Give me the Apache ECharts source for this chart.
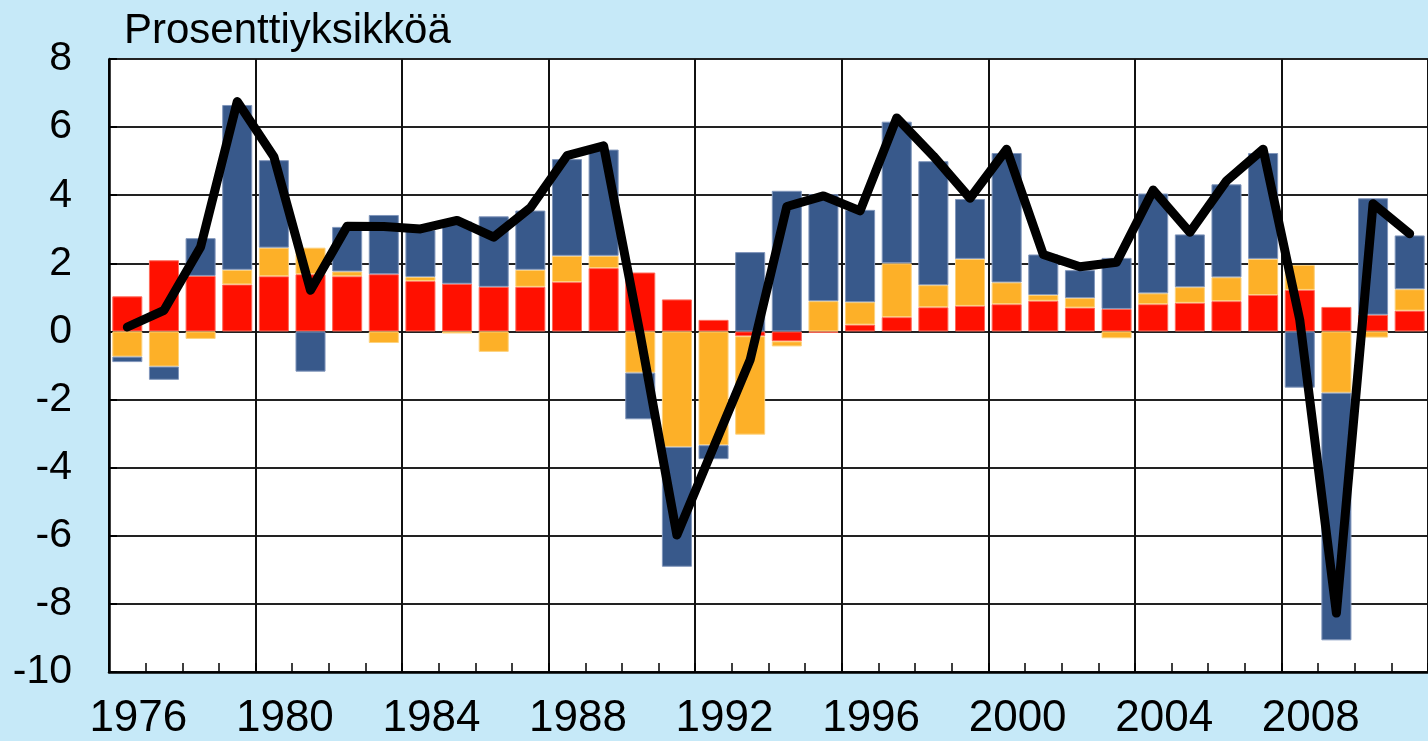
<!DOCTYPE html>
<html>
<head>
<meta charset="utf-8">
<script src="https://cdn.jsdelivr.net/npm/echarts@6/dist/echarts.min.js"></script>
<style>
  html, body { margin: 0; padding: 0; background: #c6e9f8; }
  #chart { width: 1428px; height: 741px; }
</style>
</head>
<body>
<div id="chart"></div>
<script>
const years = [];
for (let y = 1976; y <= 2011; y++) years.push(String(y));

// punainen
const redPart = [
  1.03, 2.09, 1.63, 1.38, 1.62, 1.68, 1.62, 1.68, 1.48, 1.40,
  1.31, 1.31, 1.45, 1.86, 1.73, 0.94, 0.34, -0.14, -0.29, -0.04,
  0.20, 0.42, 0.71, 0.75, 0.80, 0.90, 0.70, 0.66, 0.80, 0.84,
  0.89, 1.07, 1.22, 0.72, 0.49, 0.61
];
// oranssi
const orangePart = [
  -0.74, -1.03, -0.22, 0.43, 0.84, 0.78, 0.14, -0.34, 0.12, -0.06,
  -0.60, 0.50, 0.77, 0.36, -1.21, -3.39, -3.34, -2.89, -0.15, 0.89,
  0.66, 1.58, 0.65, 1.38, 0.64, 0.17, 0.28, -0.20, 0.32, 0.46,
  0.70, 1.06, 0.73, -1.80, -0.18, 0.63
];
// sininen
const bluePart = [
  -0.16, -0.39, 1.11, 4.84, 2.57, -1.18, 1.31, 1.74, 1.38, 1.83,
  2.07, 1.74, 2.84, 3.12, -1.37, -3.52, -0.41, 2.33, 4.13, 3.14,
  2.71, 4.16, 3.64, 1.76, 3.80, 1.19, 0.82, 1.50, 2.93, 1.55,
  2.73, 3.11, -1.65, -7.27, 3.42, 1.58
];
// viiva
const total = [
  0.13, 0.62, 2.48, 6.75, 5.13, 1.21, 3.09, 3.08, 3.01, 3.26,
  2.77, 3.63, 5.16, 5.45, -0.10, -5.98, -3.40, -0.83, 3.67, 3.98,
  3.54, 6.27, 5.15, 3.91, 5.35, 2.26, 1.90, 2.03, 4.15, 2.91,
  4.42, 5.35, 0.34, -8.27, 3.75, 2.87
];

const font = 'Liberation Sans, Arial, sans-serif';

function barSeries(name, data, color, border) {
  return {
    name: name,
    type: 'bar',
    stack: 'total',
    data: data,
    barCategoryGap: '18%',
    itemStyle: { color: color, borderColor: border, borderWidth: 1 },
    animation: false
  };
}

const option = {
  backgroundColor: '#c6e9f8',
  title: {
    text: 'Prosenttiyksikköä',
    left: 119,
    top: 5,
    textStyle: { fontFamily: font, fontSize: 42, fontWeight: 'normal', color: '#000' }
  },
  grid: {
    left: 109,
    top: 59,
    height: 613,
    width: 1328,
    show: true,
    backgroundColor: '#fff',
    borderWidth: 0
  },
  xAxis: {
    type: 'category',
    data: years,
    boundaryGap: true,
    axisLine: { onZero: false, lineStyle: { color: '#000', width: 2.5 } },
    axisTick: { show: true, interval: 0, inside: true, length: 9, lineStyle: { color: '#000', width: 1.5 } },
    axisLabel: {
      interval: 3,
      margin: 25,
      padding: [0, 0, 0, 22],
      fontFamily: font,
      fontSize: 44,
      color: '#000'
    },
    splitLine: { show: true, interval: 3, lineStyle: { color: '#111', width: 2 } }
  },
  yAxis: {
    type: 'value',
    min: -10,
    max: 8,
    interval: 2,
    axisLine: { show: true, lineStyle: { color: '#000', width: 2.5 } },
    axisTick: { show: true, inside: true, length: 8, lineStyle: { color: '#000', width: 2 } },
    axisLabel: { margin: 37, fontFamily: font, fontSize: 41, color: '#000' },
    splitLine: { show: true, lineStyle: { color: '#222', width: 2 } }
  },
  series: [
    barSeries('Punainen', redPart, '#ff1000', '#ff6a5a'),
    barSeries('Oranssi', orangePart, '#fdb028', '#fdd27e'),
    barSeries('Sininen', bluePart, '#38598b', '#8096bb'),
    {
      name: 'Yhteensä',
      type: 'line',
      data: total,
      symbol: 'none',
      z: 5,
      lineStyle: { color: '#000', width: 9, cap: 'round', join: 'round' },
      animation: false
    }
  ]
};

const myChart = echarts.init(document.getElementById('chart'));
myChart.setOption(option);
</script>
</body>
</html>
